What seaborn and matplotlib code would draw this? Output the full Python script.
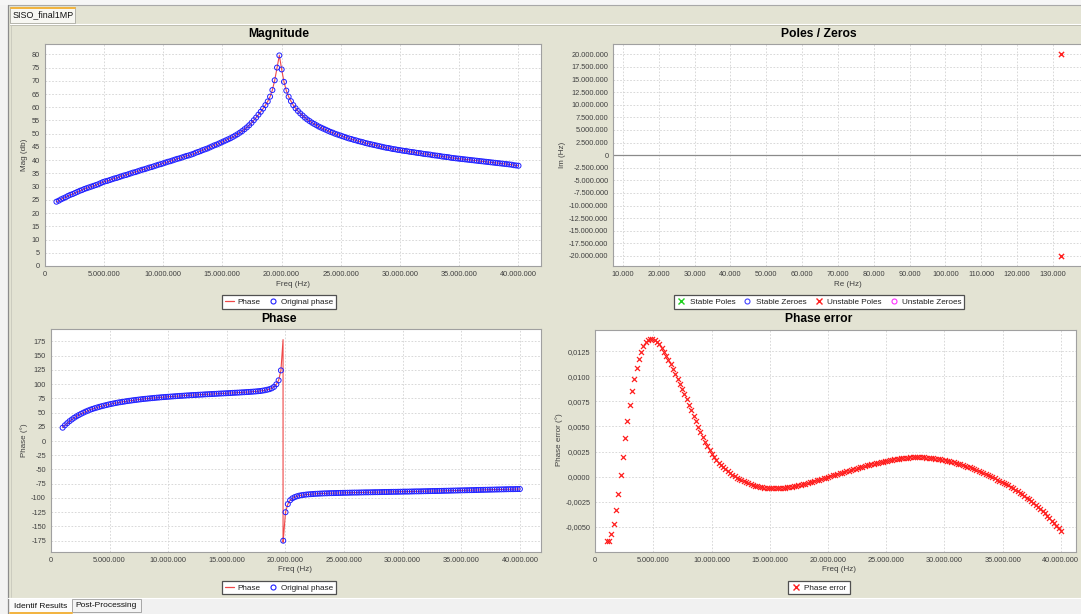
import numpy as np
import matplotlib
matplotlib.use("Agg")
import matplotlib.pyplot as plt
from matplotlib.patches import Rectangle
from matplotlib.lines import Line2D
from matplotlib.ticker import FuncFormatter
import seaborn as sns

# ---------------- data ----------------
freq_start_hz = 1.0e6
freq_stop_hz = 40.0e6

magnitude_db = [
    24.3, 24.7, 25.2, 25.6, 26.0, 26.5, 26.9, 27.2, 27.6, 28.0,
    28.4, 28.7, 29.1, 29.4, 29.7, 30.0, 30.3, 30.6, 30.9, 31.3,
    31.7, 32.0, 32.2, 32.5, 32.8, 33.1, 33.3, 33.6, 33.9, 34.2,
    34.4, 34.7, 35.0, 35.3, 35.5, 35.8, 36.1, 36.4, 36.6, 36.9,
    37.2, 37.4, 37.7, 38.0, 38.3, 38.5, 38.8, 39.1, 39.4, 39.6,
    39.9, 40.2, 40.5, 40.7, 41.0, 41.3, 41.6, 41.8, 42.1, 42.4,
    42.8, 43.1, 43.4, 43.8, 44.1, 44.4, 44.8, 45.2, 45.6, 45.9,
    46.3, 46.7, 47.1, 47.5, 47.9, 48.3, 48.8, 49.3, 49.8, 50.4,
    51.0, 51.7, 52.4, 53.2, 54.1, 55.1, 56.1, 57.2, 58.3, 59.5,
    60.8, 62.2, 64.0, 66.5, 70.2, 75.0, 79.6, 74.3, 69.6, 66.3,
    64.0, 62.3, 60.8, 59.6, 58.6, 57.7, 56.9, 56.1, 55.4, 54.8,
    54.2, 53.7, 53.2, 52.7, 52.3, 51.9, 51.5, 51.1, 50.7, 50.4,
    50.0, 49.7, 49.4, 49.1, 48.8, 48.5, 48.2, 48.0, 47.7, 47.5,
    47.2, 47.0, 46.8, 46.5, 46.3, 46.1, 45.9, 45.7, 45.5, 45.3,
    45.1, 44.9, 44.7, 44.6, 44.4, 44.2, 44.1, 43.9, 43.8, 43.6,
    43.5, 43.4, 43.2, 43.1, 43.0, 42.8, 42.7, 42.6, 42.4, 42.3,
    42.2, 42.1, 41.9, 41.8, 41.7, 41.6, 41.4, 41.3, 41.2, 41.1,
    40.9, 40.8, 40.7, 40.6, 40.5, 40.4, 40.3, 40.2, 40.1, 40.0,
    39.9, 39.8, 39.7, 39.6, 39.5, 39.4, 39.3, 39.2, 39.1, 39.0,
    38.9, 38.8, 38.7, 38.6, 38.5, 38.4, 38.3, 38.1, 38.0, 37.9,
]

phase_deg = [
    23.4, 27.6, 31.3, 34.8, 37.8, 40.7, 43.2, 45.5, 47.7, 49.7,
    51.6, 53.3, 54.9, 56.3, 57.6, 58.8, 60.0, 61.1, 62.1, 63.1,
    64.1, 65.0, 65.8, 66.6, 67.4, 68.1, 68.7, 69.3, 70.0, 70.6,
    71.1, 71.7, 72.2, 72.7, 73.2, 73.7, 74.1, 74.5, 74.9, 75.3,
    75.7, 76.1, 76.4, 76.8, 77.1, 77.4, 77.7, 78.0, 78.3, 78.6,
    78.9, 79.2, 79.4, 79.7, 80.0, 80.2, 80.5, 80.7, 80.9, 81.2,
    81.4, 81.6, 81.9, 82.1, 82.3, 82.5, 82.7, 82.9, 83.2, 83.4,
    83.6, 83.8, 84.0, 84.2, 84.5, 84.7, 84.9, 85.1, 85.4, 85.6,
    85.9, 86.1, 86.4, 86.7, 87.0, 87.4, 87.8, 88.4, 89.1, 90.0,
    91.0, 92.5, 95.0, 99.5, 106.5, 124.0, -175.0, -125.0, -110.8, -104.0,
    -100.6, -98.5, -97.0, -95.9, -95.1, -94.5, -94.0, -93.6, -93.3, -93.0,
    -92.7, -92.5, -92.3, -92.1, -91.9, -91.8, -91.6, -91.5, -91.4, -91.3,
    -91.2, -91.1, -91.0, -90.9, -90.8, -90.7, -90.6, -90.5, -90.5, -90.4,
    -90.3, -90.2, -90.1, -90.1, -90.0, -89.9, -89.8, -89.8, -89.7, -89.6,
    -89.5, -89.5, -89.4, -89.3, -89.2, -89.2, -89.1, -89.0, -88.9, -88.8,
    -88.8, -88.7, -88.6, -88.5, -88.4, -88.4, -88.3, -88.2, -88.1, -88.0,
    -87.9, -87.8, -87.8, -87.7, -87.6, -87.5, -87.4, -87.3, -87.2, -87.1,
    -87.0, -86.9, -86.8, -86.7, -86.6, -86.5, -86.4, -86.3, -86.2, -86.1,
    -86.0, -85.9, -85.8, -85.7, -85.6, -85.5, -85.4, -85.3, -85.2, -85.1,
    -85.0, -84.9, -84.8, -84.7, -84.6, -84.5, -84.5, -84.4, -84.3, -84.3,
]

# the fitted phase curve wraps from +180 to -180 just before the resonance point
wrap_freq_hz = [19.80e6, 19.80e6]
wrap_phase_deg = [178.0, -178.0]

phase_error_deg = [
    -0.0064, -0.0064, -0.0057, -0.0047, -0.0033, -0.0017, 0.0002, 0.0020, 0.0038, 0.0055,
    0.0071, 0.0085, 0.0097, 0.0108, 0.0117, 0.0124, 0.0130, 0.0134, 0.0136, 0.0137,
    0.0137, 0.0136, 0.0134, 0.0132, 0.0128, 0.0124, 0.0120, 0.0116, 0.0112, 0.0107,
    0.0102, 0.0097, 0.0092, 0.0087, 0.0082, 0.0077, 0.0071, 0.0066, 0.0060, 0.0055,
    0.0049, 0.0044, 0.0039, 0.0035, 0.0031, 0.0027, 0.0023, 0.0020, 0.0017, 0.0014,
    0.0012, 0.0010, 0.0008, 0.0006, 0.0004, 0.0002, 0.0001, -0.0001, -0.0002, -0.0003,
    -0.0004, -0.0005, -0.0006, -0.0007, -0.0008, -0.0009, -0.0009, -0.0010, -0.0010, -0.0011,
    -0.0011, -0.0011, -0.0011, -0.0011, -0.0011, -0.0011, -0.0011, -0.0011, -0.0011, -0.0010,
    -0.0010, -0.0010, -0.0009, -0.0009, -0.0008, -0.0008, -0.0007, -0.0007, -0.0006, -0.0005,
    -0.0005, -0.0004, -0.0003, -0.0003, -0.0002, -0.0001, -0.0001, 0.0000, 0.0001, 0.0002,
    0.0002, 0.0003, 0.0004, 0.0004, 0.0005, 0.0006, 0.0006, 0.0007, 0.0008, 0.0008,
    0.0009, 0.0010, 0.0010, 0.0011, 0.0012, 0.0012, 0.0013, 0.0013, 0.0014, 0.0014,
    0.0015, 0.0015, 0.0016, 0.0016, 0.0017, 0.0017, 0.0018, 0.0018, 0.0018, 0.0019,
    0.0019, 0.0019, 0.0019, 0.0020, 0.0020, 0.0020, 0.0020, 0.0020, 0.0020, 0.0020,
    0.0019, 0.0019, 0.0019, 0.0019, 0.0018, 0.0018, 0.0018, 0.0017, 0.0017, 0.0016,
    0.0016, 0.0015, 0.0015, 0.0014, 0.0013, 0.0013, 0.0012, 0.0011, 0.0010, 0.0010,
    0.0009, 0.0008, 0.0007, 0.0006, 0.0005, 0.0004, 0.0003, 0.0002, 0.0001, 0.0000,
    -0.0001, -0.0003, -0.0004, -0.0005, -0.0006, -0.0007, -0.0008, -0.0010, -0.0011, -0.0013,
    -0.0014, -0.0016, -0.0017, -0.0019, -0.0021, -0.0022, -0.0024, -0.0026, -0.0028, -0.0030,
    -0.0032, -0.0034, -0.0036, -0.0039, -0.0041, -0.0044, -0.0046, -0.0049, -0.0051, -0.0054,
]

pole_re_hz = [132200, 132200]
pole_im_hz = [20.0e6, -20.0e6]

freq_ticks_hz = [0, 5e6, 10e6, 15e6, 20e6, 25e6, 30e6, 35e6, 40e6]
mag_ticks_db = list(range(0, 85, 5))
phase_ticks_deg = list(range(-175, 200, 25))
err_ticks = [-0.005, -0.0025, 0.0, 0.0025, 0.005, 0.0075, 0.01, 0.0125]
re_ticks_hz = list(range(10000, 140000, 10000))
im_ticks_hz = [v * 2.5e6 for v in range(-8, 9)]

freq_hz = np.linspace(freq_start_hz, freq_stop_hz, len(magnitude_db))
cut = int(np.searchsorted(freq_hz, wrap_freq_hz[0]))
phase_line_f = np.concatenate([freq_hz[:cut], wrap_freq_hz, freq_hz[cut:]])
phase_line_v = np.concatenate([phase_deg[:cut], wrap_phase_deg, phase_deg[cut:]])

# ---------------- style ----------------
sns.set_theme(style="white")
plt.rcParams["font.family"] = ["Liberation Sans", "DejaVu Sans"]
plt.rcParams["axes.unicode_minus"] = False

W, H = 1081, 614
fig = plt.figure(figsize=(W / 100, H / 100), dpi=100)
fig.patch.set_facecolor("#F3F3F3")

BEIGE = "#E3E3D3"
GRAY_TXT = "#404040"

# background "window" drawn in pixel coordinates
bg = fig.add_axes([0, 0, 1, 1])
bg.set_xlim(0, W)
bg.set_ylim(H, 0)
bg.axis("off")
bg.set_zorder(-5)


def rect(x0, y0, x1, y1, fc, ec="none", lw=0.0):
    bg.add_patch(Rectangle((x0, y0), x1 - x0, y1 - y0, facecolor=fc, edgecolor=ec, linewidth=lw))


rect(8, 5, W, 598, BEIGE)
rect(0, 0, W, 5, "#F6F6F6")
bg.plot([8, W], [5, 5], color="#A8A8A8", lw=0.8)
bg.plot([7.5, 7.5], [5, H], color="#8C8C8C", lw=0.9)
# top tab
rect(10, 7, 75, 23, "#F7F7F2", ec="#A8A8A0", lw=0.6)
bg.plot([10.5, 74.5], [7.5, 7.5], color="#F2B33D", lw=1.4)
bg.text(13, 15, "SISO_final1MP", fontsize=6.4, va="center", ha="left", color="#101010")
bg.plot([10, W], [23.5, 23.5], color="#FFFFFF", lw=0.8)
bg.plot([10, W], [25, 25], color="#B8B8AC", lw=0.6)
bg.plot([10.5, 10.5], [25, 597], color="#C8C8BC", lw=0.6)
# bottom tabs
rect(8, 598, W, H, "#F1F1F1")
bg.plot([8, W], [598, 598], color="#FFFFFF", lw=0.8)
rect(10, 599, 72, H, "#FBFBFB")
bg.plot([10, 72], [613, 613], color="#F2B33D", lw=1.4)
bg.text(14, 606.5, "Identif Results", fontsize=6.0, va="center", ha="left", color="#101010")
rect(72, 599, 141, 612, "#F4F4F4", ec="#9A9A9A", lw=0.6)
bg.text(75, 605.5, "Post-Processing", fontsize=6.0, va="center", ha="left", color="#101010")


def add_ax(x0, y0, x1, y1):
    return fig.add_axes([x0 / W, 1 - y1 / H, (x1 - x0) / W, (y1 - y0) / H])


def style(ax):
    ax.set_facecolor("white")
    for s in ax.spines.values():
        s.set_color("#A0A0A0")
        s.set_linewidth(0.8)
    ax.grid(True, color="#D2D2D2", linestyle=(0, (2, 2)), linewidth=0.6)
    ax.set_axisbelow(True)
    ax.tick_params(direction="out", length=2, width=0.6, color="#909090",
                   labelsize=5.3, labelcolor=GRAY_TXT, pad=1.5)
    ax.set_xlabel("")
    ax.set_ylabel("")


thousands = FuncFormatter(lambda v, p: f"{int(round(v)):,}".replace(",", "."))


def err_fmt(v, p):
    s = f"{v:.4f}"
    if s == "-0.0000":
        s = "0.0000"
    return s.replace(".", ",")


def title(x, y, s):
    bg.text(x, y, s, fontsize=8.7, fontweight="bold", ha="center", va="center", color="black")


def label(x, y, s, rot=0):
    bg.text(x, y, s, fontsize=5.8, ha="center", va="center", rotation=rot, color=GRAY_TXT)


LINE_RED = "#F04848"
CIRCLE_BLUE = "#2020FF"

# ---------------- Magnitude ----------------
ax1 = add_ax(44.6, 44.3, 541, 266)
sns.lineplot(x=freq_hz, y=magnitude_db, ax=ax1, color=LINE_RED, lw=0.8,
             estimator=None, sort=False, zorder=2)
sns.scatterplot(x=freq_hz, y=magnitude_db, ax=ax1, marker="o", s=13,
                facecolors="none", edgecolor=CIRCLE_BLUE, linewidth=0.7, zorder=3)
ax1.set_xlim(0, 41.9e6)
ax1.set_ylim(0, 83.8)
ax1.set_xticks(freq_ticks_hz)
ax1.set_yticks(mag_ticks_db)
ax1.xaxis.set_major_formatter(thousands)
style(ax1)
title(279, 34, "Magnitude")
label(293, 284, "Freq (Hz)")
label(24.5, 155, "Mag (db)", 90)

# ---------------- Poles / Zeros ----------------
ax2 = add_ax(613.4, 44.3, 1095, 266)
ax2.axhline(0, color="#8A8A8A", lw=0.9, zorder=1)
sns.scatterplot(x=pole_re_hz, y=pole_im_hz, ax=ax2, marker="x", s=14,
                color="#FF2020", linewidth=1.0, zorder=3)
ax2.set_xlim(7300, 141800)
ax2.set_ylim(-22.0e6, 22.0e6)
ax2.set_xticks(re_ticks_hz)
ax2.set_yticks(im_ticks_hz)
ax2.xaxis.set_major_formatter(thousands)
ax2.yaxis.set_major_formatter(thousands)
style(ax2)
title(818.6, 34, "Poles / Zeros")
label(848, 284, "Re (Hz)")
label(562, 155, "Im (Hz)", 90)

# ---------------- Phase ----------------
ax3 = add_ax(50.9, 329.3, 541, 551.7)
sns.lineplot(x=phase_line_f, y=phase_line_v, ax=ax3, color=LINE_RED, lw=0.8,
             estimator=None, sort=False, zorder=2)
sns.scatterplot(x=freq_hz, y=phase_deg, ax=ax3, marker="o", s=13,
                facecolors="none", edgecolor=CIRCLE_BLUE, linewidth=0.7, zorder=3)
ax3.set_xlim(0, 41.8e6)
ax3.set_ylim(-194.3, 196.1)
ax3.set_xticks(freq_ticks_hz)
ax3.set_yticks(phase_ticks_deg)
ax3.xaxis.set_major_formatter(thousands)
style(ax3)
title(279, 319.5, "Phase")
label(295, 569.5, "Freq (Hz)")
label(24.5, 440, "Phase (°)", 90)

# ---------------- Phase error ----------------
ax4 = add_ax(595.2, 330, 1076, 551.7)
sns.scatterplot(x=freq_hz, y=phase_error_deg, ax=ax4, marker="x", s=13,
                color="#FF2020", linewidth=0.9, zorder=3)
ax4.set_xlim(0, 41.3e6)
ax4.set_ylim(-0.0075, 0.01463)
ax4.set_xticks(freq_ticks_hz)
ax4.set_yticks(err_ticks)
ax4.xaxis.set_major_formatter(thousands)
ax4.yaxis.set_major_formatter(FuncFormatter(err_fmt))
style(ax4)
title(818.6, 319.5, "Phase error")
label(839, 569.5, "Freq (Hz)")
label(559, 440, "Phase error (°)", 90)

# ---------------- legends ----------------
def legend(handles, labels, cx, cy, ncol):
    lg = fig.legend(handles, labels, loc="center", bbox_to_anchor=(cx / W, 1 - cy / H),
                    ncol=ncol, fontsize=5.9, frameon=True, fancybox=False, shadow=False,
                    borderpad=0.35, handlelength=1.2, handletextpad=0.4,
                    columnspacing=0.9, borderaxespad=0.0)
    fr = lg.get_frame()
    fr.set_edgecolor("#505050")
    fr.set_linewidth(0.9)
    fr.set_facecolor("white")
    fr.set_alpha(1.0)
    for t in lg.get_texts():
        t.set_color("#202020")
    return lg


h_line = Line2D([], [], color=LINE_RED, lw=0.9)
h_circ = Line2D([], [], linestyle="none", marker="o", markersize=3.6,
                markerfacecolor="none", markeredgecolor=CIRCLE_BLUE, markeredgewidth=0.8)
legend([h_line, h_circ], ["Phase", "Original phase"], 279, 302, 2)
legend([h_line, h_circ], ["Phase", "Original phase"], 279, 587.7, 2)

h_sp = Line2D([], [], linestyle="none", marker="x", markersize=3.8, color="#20D020", markeredgewidth=1.0)
h_sz = Line2D([], [], linestyle="none", marker="o", markersize=3.6, markerfacecolor="none",
              markeredgecolor="#4040FF", markeredgewidth=0.8)
h_up = Line2D([], [], linestyle="none", marker="x", markersize=3.8, color="#FF2020", markeredgewidth=1.0)
h_uz = Line2D([], [], linestyle="none", marker="o", markersize=3.6, markerfacecolor="none",
              markeredgecolor="#FF30FF", markeredgewidth=0.8)
legend([h_sp, h_sz, h_up, h_uz], ["Stable Poles", "Stable Zeroes", "Unstable Poles", "Unstable Zeroes"],
       818.8, 302, 4)
legend([h_up], ["Phase error"], 819, 587.7, 1)

fig.savefig("out.png", dpi=100, facecolor=fig.get_facecolor())
